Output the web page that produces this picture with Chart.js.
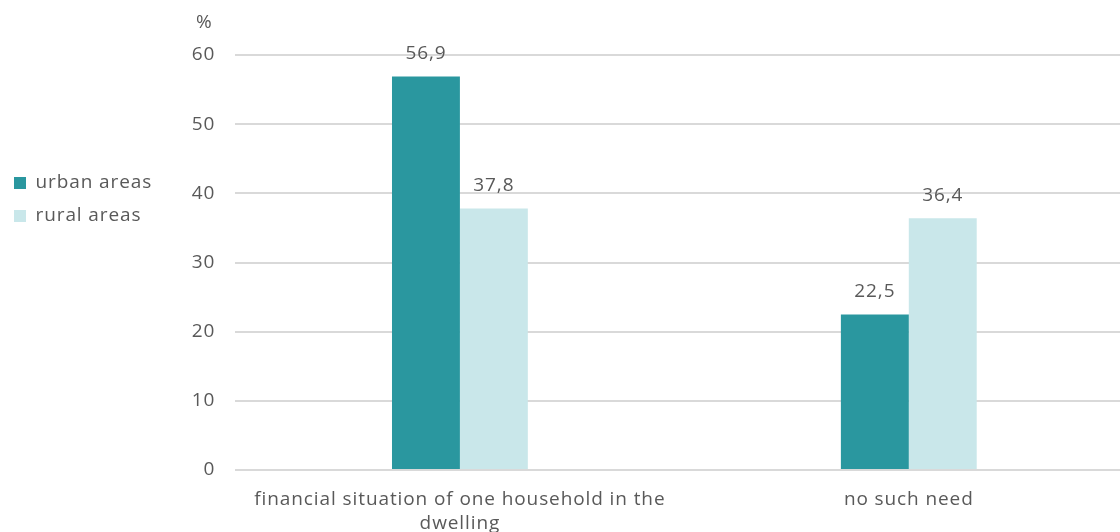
<!DOCTYPE html>
<html><head><meta charset="utf-8">
<script src="https://cdn.jsdelivr.net/npm/chart.js@4"></script>
<style>html,body{margin:0;padding:0;background:#fff}#wrap{width:1120px;height:532px}</style>
</head><body><div id="wrap"><canvas id="c"></canvas></div>
<script>
const categories = [["financial situation of one household in the", "dwelling"], "no such need"];
const urbanValues = [56.9, 22.5];
const ruralValues = [37.8, 36.4];
const seriesNames = ["urban areas", "rural areas"];
const yTicks = [0, 10, 20, 30, 40, 50, 60];
const unitLabel = "%";

const FONT = "'Open Sans', sans-serif";
const TXT = "#595959";
const SPACING = "0.9px";

const spacing = {
  id: 'spacing',
  beforeUpdate(chart) { chart.ctx.letterSpacing = SPACING; },
  beforeLayout(chart) { chart.ctx.letterSpacing = SPACING; },
  beforeDraw(chart) { chart.ctx.letterSpacing = SPACING; }
};
const valueLabels = {
  id: 'valueLabels',
  afterDatasetsDraw(chart) {
    const ctx = chart.ctx;
    ctx.save();
    ctx.font = "19px " + FONT;
    ctx.fillStyle = TXT;
    ctx.textAlign = 'center';
    ctx.textBaseline = 'middle';
    chart.data.datasets.forEach((ds, i) => {
      chart.getDatasetMeta(i).data.forEach((bar, j) => {
        ctx.fillText(ds.data[j].y.toFixed(1).replace('.', ','), bar.x, bar.y - 23);
      });
    });
    ctx.restore();
  }
};
const unitTitle = {
  id: 'unitTitle',
  afterDraw(chart) {
    const ctx = chart.ctx, y = chart.scales.y;
    ctx.save();
    ctx.font = "19px " + FONT;
    ctx.fillStyle = TXT;
    ctx.textAlign = 'center';
    ctx.textBaseline = 'middle';
    ctx.fillText(unitLabel, y.right - 31, y.top - 32);
    ctx.restore();
  }
};

const toPoints = vals => vals.map((v, i) => ({ x: i, y: v }));

new Chart(document.getElementById('c'), {
  type: 'bar',
  data: {
    datasets: [
      { label: seriesNames[0], data: toPoints(urbanValues), backgroundColor: '#2A979F', categoryPercentage: 0.3026, barPercentage: 1 },
      { label: seriesNames[1], data: toPoints(ruralValues), backgroundColor: '#C9E7EA', categoryPercentage: 0.3026, barPercentage: 1 }
    ]
  },
  options: {
    responsive: true, maintainAspectRatio: false, animation: false,
    layout: { padding: { top: 55, right: 0, left: 0, bottom: 0 } },
    plugins: {
      tooltip: { enabled: false },
      legend: {
        position: 'left', align: 'start',
        title: { display: true, text: ' ', font: { size: 2 }, padding: { top: 102, bottom: 0 } },
        labels: { boxWidth: 12, boxHeight: 12, padding: 14, color: TXT, font: { family: FONT, size: 19 } }
      }
    },
    scales: {
      x: {
        type: 'linear', min: -0.5006, max: 1.4705, offset: false,
        grid: { display: false, offset: false }, border: { display: false },
        afterBuildTicks(s) { s.ticks = categories.map((c, i) => ({ value: i })); },
        afterFit(s) { s.height = 62; },
        ticks: { color: TXT, font: { family: FONT, size: 19, lineHeight: 1.3 }, maxRotation: 0, autoSkip: false, padding: 9,
                 callback: v => categories[v] }
      },
      y: {
        min: 0, max: 60,
        afterBuildTicks(s) { s.ticks = yTicks.map(v => ({ value: v })); },
        afterFit(s) { s.width = 73; },
        grid: { color: '#D9D9D9', lineWidth: 2, drawTicks: false },
        border: { display: false },
        ticks: { color: TXT, font: { family: FONT, size: 19 }, padding: 20 }
      }
    }
  },
  plugins: [spacing, valueLabels, unitTitle]
});
</script></body></html>
